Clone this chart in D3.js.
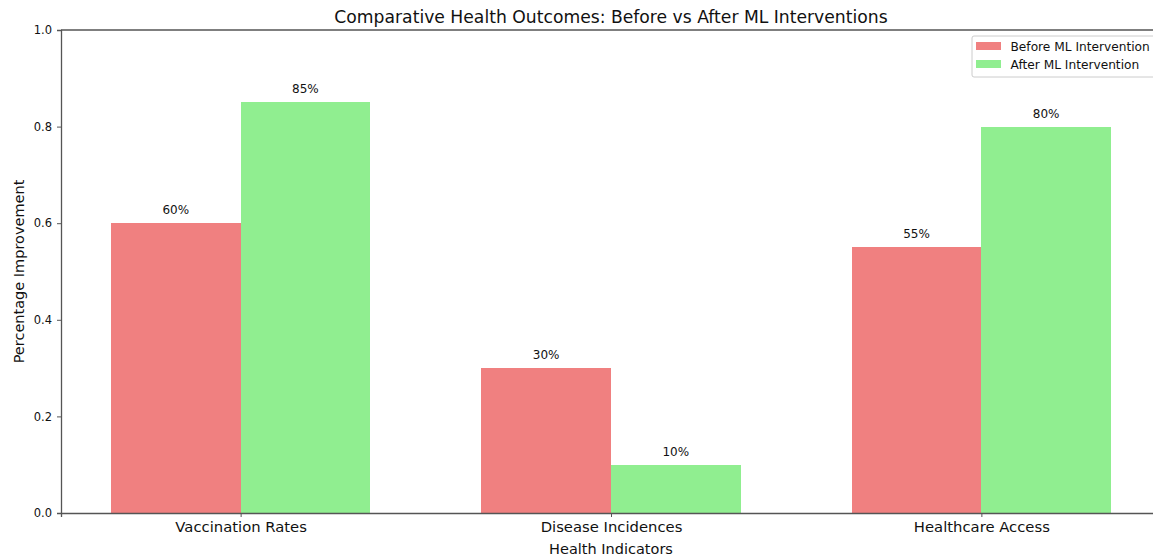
<!DOCTYPE html>
<html><head><meta charset="utf-8">
<script src="https://cdn.jsdelivr.net/npm/d3@7"></script>
<style>body{margin:0;background:#fff}svg{display:block;font-family:"DejaVu Sans",sans-serif}</style>
</head><body><svg id="c" width="1153" height="557"></svg>
<script>
const categories = ["Vaccination Rates", "Disease Incidences", "Healthcare Access"];
const seriesNames = ["Before ML Intervention", "After ML Intervention"];
const before = [0.60, 0.30, 0.55];
const after = [0.85, 0.10, 0.80];
const yTicks = [0, 0.2, 0.4, 0.6, 0.8, 1.0];
const colors = ["#F08080", "#90EE90"];

const svg = d3.select("#c");
const L = 61, R = 1161, T = 30, B = 513;
const barW = 0.35;
const x = d3.scaleLinear().domain([-0.485, 2.485]).range([L, R]);
const y = d3.scaleLinear().domain([0, 1]).range([B, T]);
const axisColor = "#555";

const series = [before, after];
series.forEach((vals, s) => {
  const off = s === 0 ? -barW : 0;
  svg.append("g").selectAll("rect").data(vals).join("rect")
    .attr("x", (d, i) => x(i + off))
    .attr("width", (d, i) => x(i + off + barW) - x(i + off))
    .attr("y", d => y(d))
    .attr("height", d => y(0) - y(d))
    .attr("shape-rendering", "crispEdges")
    .attr("fill", colors[s]);
  svg.append("g").selectAll("text").data(vals).join("text")
    .attr("x", (d, i) => x(i + off + barW / 2))
    .attr("y", d => y(d) - 9)
    .attr("text-anchor", "middle")
    .attr("font-size", 12).attr("fill", "#111")
    .text(d => Math.round(d * 100) + "%");
});

// Y axis
const ya = svg.append("g").attr("transform", `translate(${L},0)`)
  .call(d3.axisLeft(y).tickValues(yTicks).tickFormat(d3.format(".1f")).tickSize(4).tickPadding(5));
ya.select(".domain").attr("stroke", axisColor).attr("stroke-width", 1.3);
ya.selectAll(".tick line").attr("stroke", axisColor);
ya.selectAll("text").attr("font-size", 11.5).attr("fill", "#111").attr("font-family", "DejaVu Sans");

// X axis
const xa = svg.append("g").attr("transform", `translate(0,${B})`)
  .call(d3.axisBottom(x).tickValues([0, 1, 2]).tickFormat(i => categories[i]).tickSize(4).tickPadding(4));
xa.select(".domain").attr("stroke", axisColor).attr("stroke-width", 1.3);
xa.selectAll(".tick line").attr("stroke", axisColor);
xa.selectAll("text").attr("font-size", 14.8).attr("fill", "#111").attr("font-family", "DejaVu Sans");

// top spine
svg.append("line").attr("x1", L).attr("x2", R).attr("y1", T).attr("y2", T)
  .attr("stroke", axisColor).attr("stroke-width", 1.3);

// Title and labels
svg.append("text").attr("x", (L + R) / 2).attr("y", 23).attr("text-anchor", "middle")
  .attr("font-size", 17.2).attr("fill", "#111").text("Comparative Health Outcomes: Before vs After ML Interventions");
svg.append("text").attr("x", (L + R) / 2).attr("y", 554).attr("text-anchor", "middle")
  .attr("font-size", 14.5).attr("fill", "#111").text("Health Indicators");
svg.append("text").attr("transform", `translate(24,${(T + B) / 2}) rotate(-90)`).attr("text-anchor", "middle")
  .attr("font-size", 14.5).attr("fill", "#111").text("Percentage Improvement");

// Legend
const lg = svg.append("g").attr("transform", "translate(972,36)");
lg.append("rect").attr("x", 0).attr("y", 0).attr("width", 200).attr("height", 41).attr("rx", 2)
  .attr("fill", "#fff").attr("fill-opacity", 0.8).attr("stroke", "#ccc");
seriesNames.forEach((n, i) => {
  lg.append("rect").attr("x", 4).attr("y", 6 + i * 18).attr("width", 25).attr("height", 8).attr("fill", colors[i]);
  lg.append("text").attr("x", 38.5).attr("y", 14.5 + i * 18).attr("font-size", 12.2).attr("fill", "#111").text(n);
});
</script></body></html>
